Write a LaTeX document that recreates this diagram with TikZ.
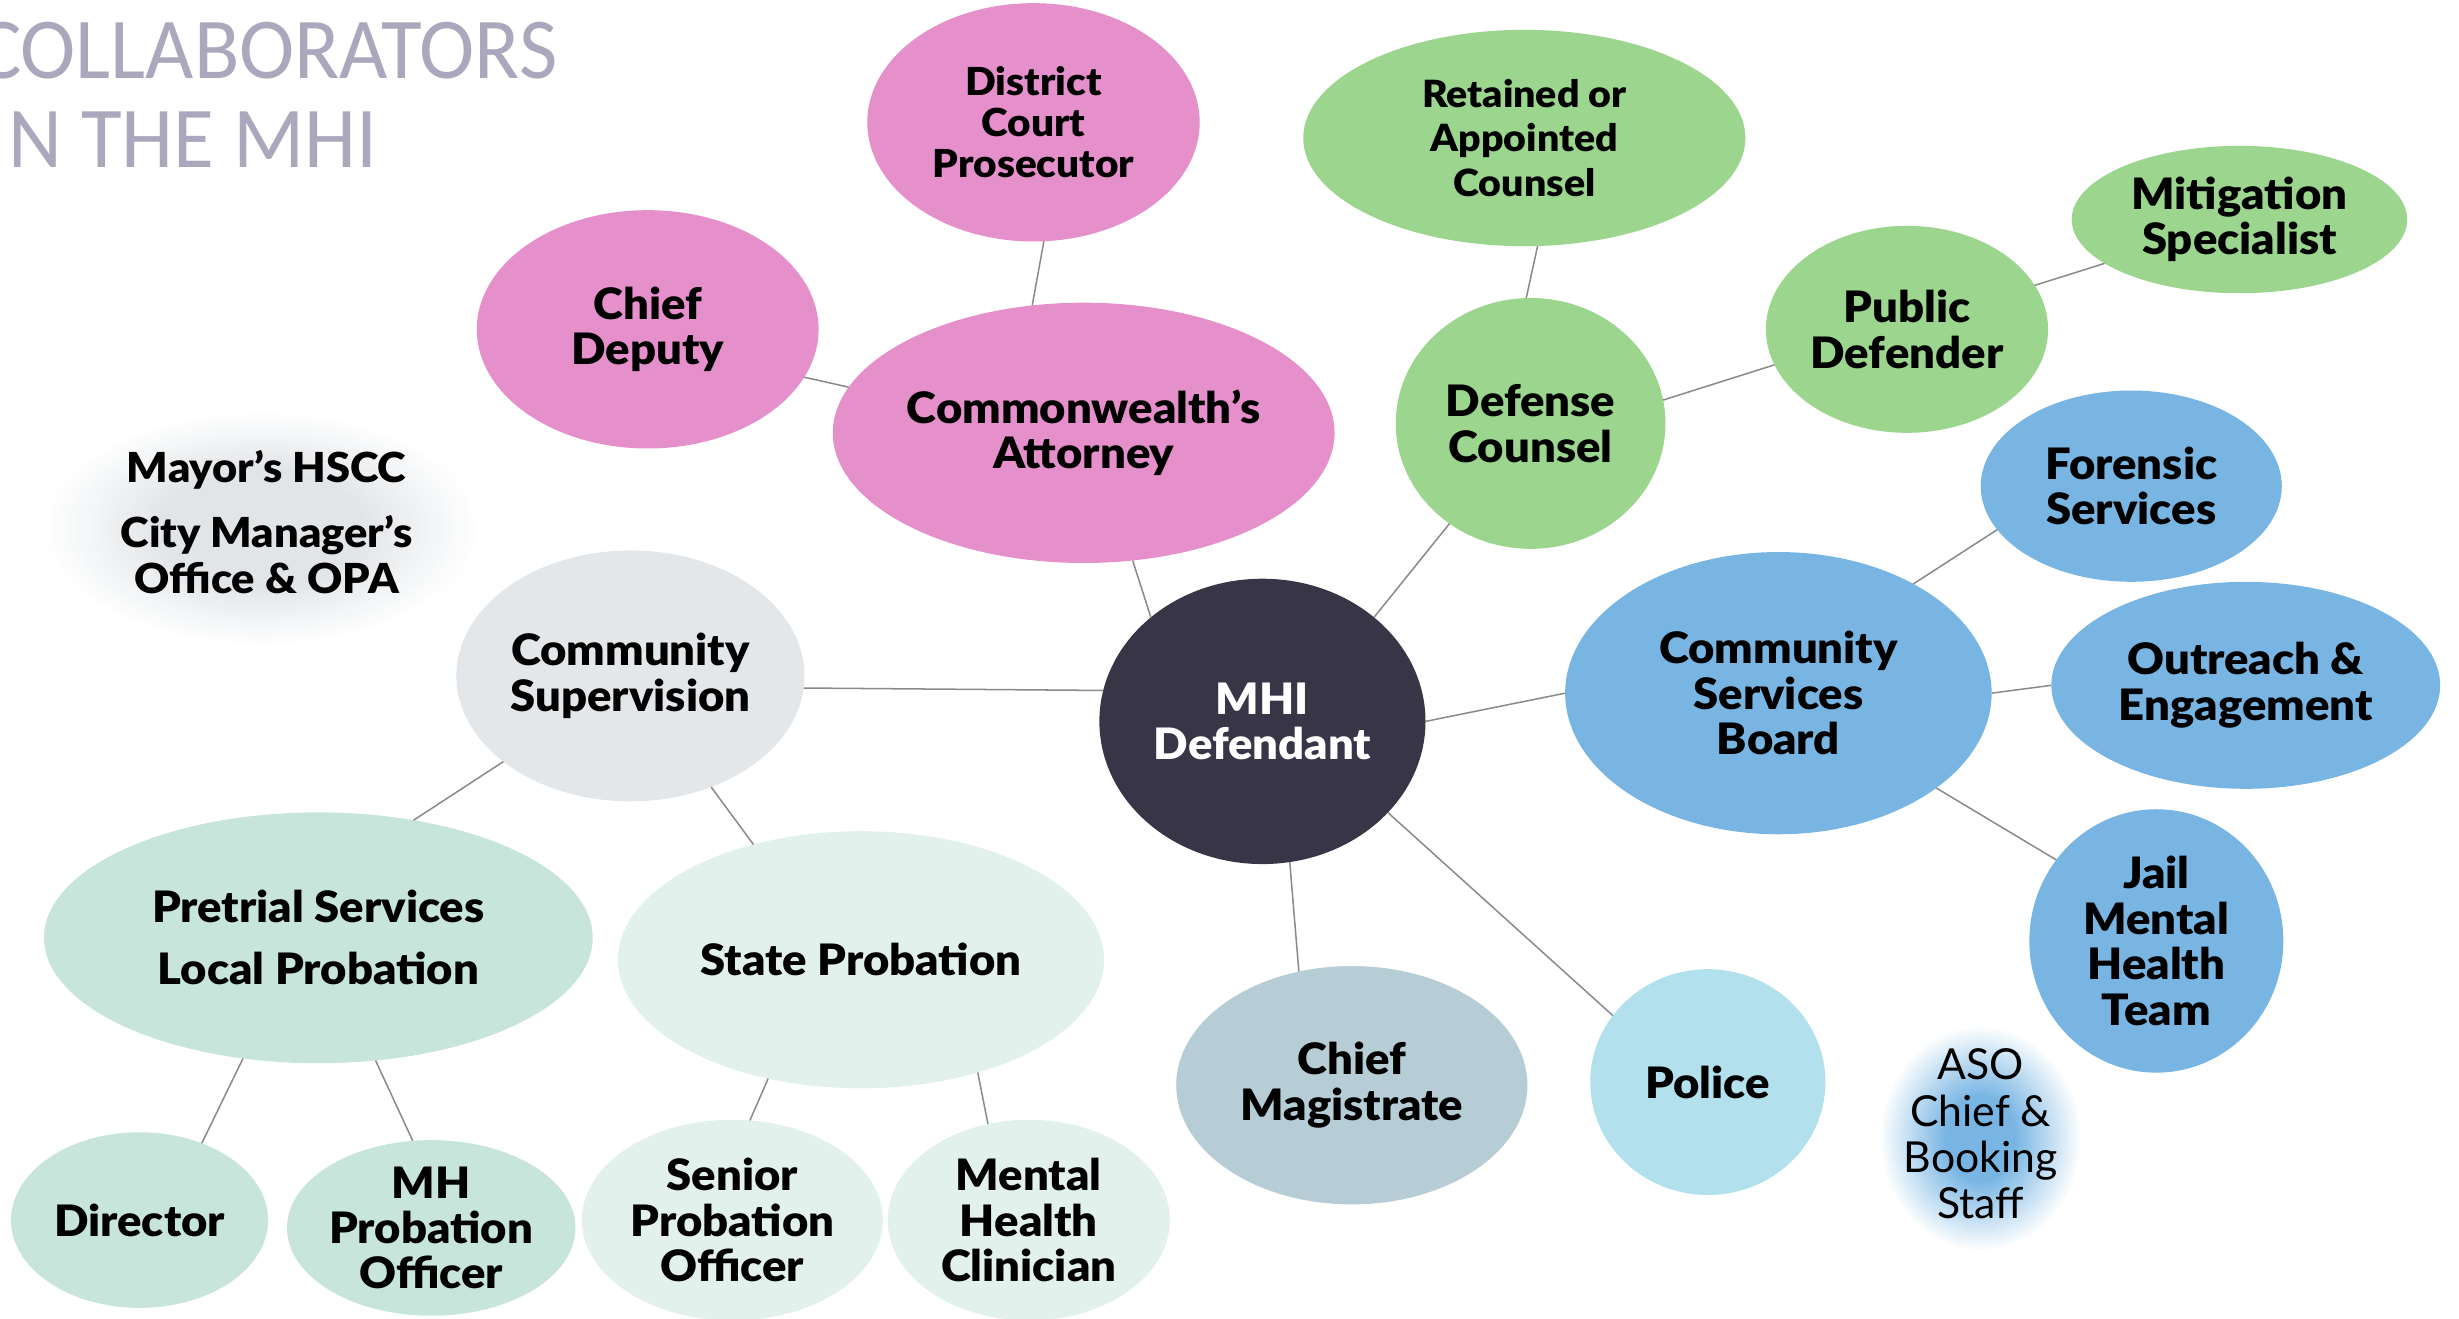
\documentclass[tikz,border=0pt]{standalone}
\usepackage{fontspec}
\setmainfont{Lato}
\newfontfamily\heavyfont[FakeStretch=1.05]{Lato Black}
\newfontfamily\titlefont[FakeStretch=0.96]{Carlito}
\usetikzlibrary{shapes.geometric}
\definecolor{cpink}{HTML}{E58FCB}
\definecolor{cgreen}{HTML}{9BD58E}
\definecolor{cblue}{HTML}{78B5E3}
\definecolor{cpolice}{HTML}{B2E0EC}
\definecolor{cmag}{HTML}{B7CDD5}
\definecolor{ccs}{HTML}{E4E7E9}
\definecolor{cpre}{HTML}{C8E5DB}
\definecolor{cstate}{HTML}{E2F1EC}
\definecolor{cdark}{HTML}{383547}
\definecolor{ctitle}{HTML}{AAA8BD}
\definecolor{cline}{HTML}{8A8A8A}
\definecolor{glowgray}{HTML}{E2E5E8}
\definecolor{glowblue}{HTML}{78B5E3}
\tikzset{
  bub/.style={ellipse, inner sep=0pt, outer sep=0pt, align=center,
    font=\heavyfont\fontsize{15.7}{16.5}\selectfont, text=black},
  link/.style={draw=cline, line width=0.55pt},
  titletext/.style={anchor=base west, inner sep=0pt, text=ctitle,
    font=\titlefont\fontsize{31.5}{36}\selectfont}
}
\begin{document}
\begin{tikzpicture}[x=0.02cm, y=-0.02cm]
\useasboundingbox (0,0) rectangle (1568,841);
\clip (0,0) rectangle (1568,841);
% title
\node[titletext] (t1) at (-15,50) {COLLABORATORS};
\node[titletext] (t2) at (5,107) {N THE MHI};
% glows
\foreach \k in {0,...,30}{
  \pgfmathsetmacro{\pc}{100*\k/30}
  \pgfmathsetmacro{\rx}{2.8-1.5*\k/30}
  \pgfmathsetmacro{\ry}{1.5-0.75*\k/30}
  \fill[glowgray!\pc!white] (167,337) ellipse [x radius=\rx cm, y radius=\ry cm];
}
\foreach \k in {0,...,30}{
  \pgfmathsetmacro{\pc}{100*\k/30}
  \pgfmathsetmacro{\rx}{1.3-0.85*\k/30}
  \pgfmathsetmacro{\ry}{1.45-0.9*\k/30}
  \fill[glowblue!\pc!white] (1263,726) ellipse [x radius=\rx cm, y radius=\ry cm];
}
\node[align=center, inner sep=0pt, font=\heavyfont\fontsize{15}{16.5}\selectfont] (mayor) at (170,333) {Mayor’s HSCC\\[7pt]City Manager’s\\Office \& OPA};
\node[align=center, inner sep=0pt, font=\fontsize{15.5}{16.8}\selectfont] (aso) at (1263,723) {ASO\\Chief \&\\Booking\\Staff};
% bubbles
\node[bub, fill=cdark, text=white, minimum width=4.16cm, minimum height=3.64cm] (mhi) at (805,460) {MHI\\Defendant};
\node[bub, fill=cpink, minimum width=6.4cm, minimum height=3.32cm] (ca) at (691,276) {Commonwealth’s\\Attorney};
\node[bub, fill=cpink, minimum width=4.24cm, minimum height=3.04cm, font=\heavyfont\fontsize{14}{14.8}\selectfont] (dcp) at (659,78) {District\\Court\\Prosecutor};
\node[bub, fill=cpink, minimum width=4.36cm, minimum height=3.04cm] (cd) at (413,210) {Chief\\Deputy};
\node[bub, fill=cgreen, minimum width=5.64cm, minimum height=2.76cm, font=\heavyfont\fontsize{13.6}{16}\selectfont] (rac) at (972,88) {Retained or\\Appointed\\Counsel};
\node[bub, fill=cgreen, minimum width=3.44cm, minimum height=3.2cm] (dc) at (976,270) {Defense\\Counsel};
\node[bub, fill=cgreen, minimum width=3.6cm, minimum height=2.64cm] (pd) at (1216,210) {Public\\Defender};
\node[bub, fill=cgreen, minimum width=4.28cm, minimum height=1.88cm] (mit) at (1428,140) {Mitigation\\Specialist};
\node[bub, fill=cblue, minimum width=5.44cm, minimum height=3.6cm] (csb) at (1134,442) {Community\\Services\\Board};
\node[bub, fill=cblue, minimum width=3.84cm, minimum height=2.44cm] (fs) at (1359,310) {Forensic\\Services};
\node[bub, fill=cblue, minimum width=4.96cm, minimum height=2.64cm] (oe) at (1432,437) {Outreach \&\\Engagement};
\node[bub, fill=cblue, minimum width=3.24cm, minimum height=3.36cm] (jail) at (1375,600) {Jail\\Mental\\Health\\Team};
\node[bub, fill=cpolice, minimum width=3.0cm, minimum height=2.88cm] (pol) at (1089,690) {Police};
\node[bub, fill=cmag, minimum width=4.48cm, minimum height=3.04cm] (cm) at (862,692) {Chief\\Magistrate};
\node[bub, fill=ccs, minimum width=4.44cm, minimum height=3.2cm] (cs) at (402,431) {Community\\Supervision};
\node[bub, fill=cpre, minimum width=7.0cm, minimum height=3.2cm] (pre) at (203,598) {Pretrial Services\\[6pt]Local Probation};
\node[bub, fill=cstate, minimum width=6.2cm, minimum height=3.28cm] (sp) at (549,612) {State Probation};
\node[bub, fill=cpre, minimum width=3.28cm, minimum height=2.24cm] (dir) at (89,778) {Director};
\node[bub, fill=cpre, minimum width=3.68cm, minimum height=2.24cm] (mhpo) at (275,783) {MH\\Probation\\Officer};
\node[bub, fill=cstate, minimum width=3.84cm, minimum height=2.56cm] (spo) at (467,778) {Senior\\Probation\\Officer};
\node[bub, fill=cstate, minimum width=3.6cm, minimum height=2.56cm] (mhc) at (656,778) {Mental\\Health\\Clinician};
% connectors
\draw[link] (ca.-69.7) -- (mhi.137.8);
\draw[link] (ca.112.3) -- (dcp.-85.4);
\draw[link] (ca.169.8) -- (cd.-17.6);
\draw[link] (mhi.43) -- (dc.231);
\draw[link] (dc.92.9) -- (rac.-83.4);
\draw[link] (dc.10.1) -- (pd.195.3);
\draw[link] (pd.19.9) -- (mit.198);
\draw[link] (mhi.0) -- (csb.180.8);
\draw[link] (csb.39.8) -- (fs.198.6);
\draw[link] (csb.0) -- (oe.180);
\draw[link] (csb.-31) -- (jail.141.1);
\draw[link] (mhi.-36.8) -- (pol.145);
\draw[link] (mhi.-79.4) -- (cm.115.3);
\draw[link] (mhi.169.1) -- (cs.-4.6);
\draw[link] (cs.214.2) -- (pre.51.3);
\draw[link] (cs.-54.2) -- (sp.133.8);
\draw[link] (pre.238.9) -- (dir.51.6);
\draw[link] (pre.-65.2) -- (mhpo.102.3);
\draw[link] (sp.232.7) -- (spo.80);
\draw[link] (sp.-44.6) -- (mhc.113.4);
\end{tikzpicture}
\end{document}
